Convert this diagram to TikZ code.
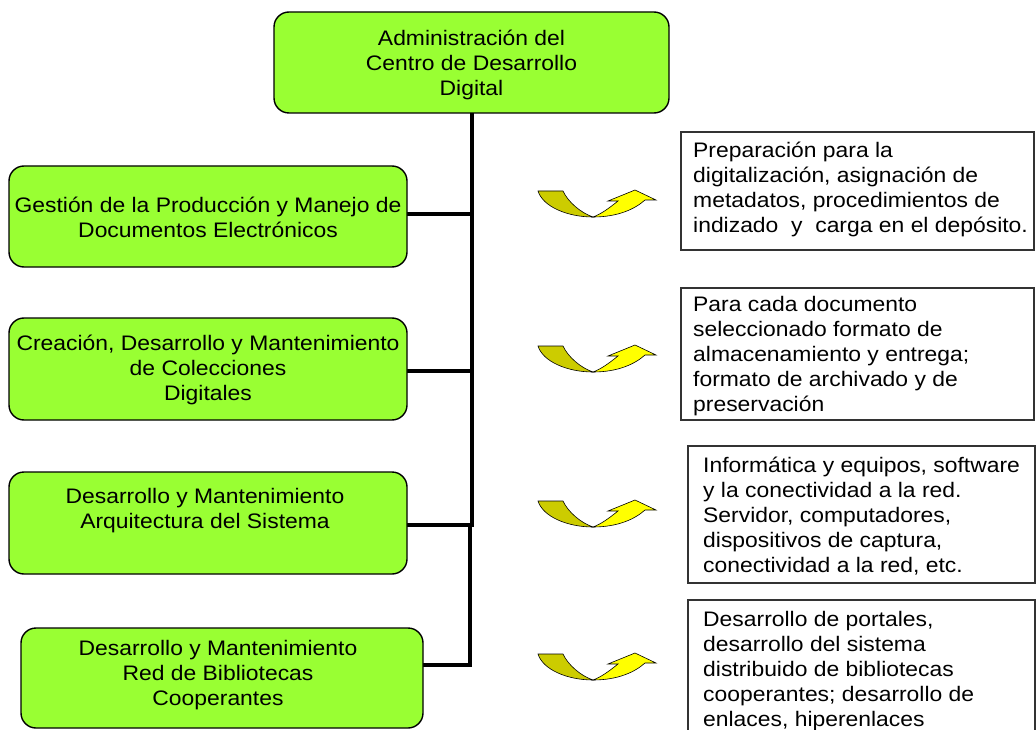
\documentclass[tikz,border=0pt]{standalone}
\usepackage{fontspec}
\setmainfont{Liberation Sans}[FakeStretch=1.09]
\usetikzlibrary{backgrounds}
\definecolor{lgreen}{HTML}{99FF33}
\definecolor{dkyel}{HTML}{CCCC00}
\definecolor{bryel}{HTML}{FFFF00}
\tikzset{
  gbox/.style={draw=black, line width=1.4pt, fill=lgreen, rounded corners=15pt, inner sep=0pt},
  wbox/.style={draw=black!80, line width=1.4pt, fill=white, inner sep=0pt},
  txt/.style={font=\fontsize{21}{25}\selectfont, inner sep=0pt},
  conn/.style={line width=4pt, line cap=rect},
  uarrow/.pic={
    \draw[line width=0.6pt, fill=dkyel] (-55,-26) .. controls (-50,-10) and (-25,0) .. (0,0)
      .. controls (-12,-4) and (-25,-15) .. (-30,-26) -- cycle;
    \draw[line width=0.6pt, fill=bryel, line join=miter] (0,0) .. controls (25,0) and (42,-8) .. (52,-17)
      -- (63,-17) -- (42,-27) -- (15,-16) -- (25,-16) .. controls (15,-8) and (8,-3) .. (0,0) -- cycle;
  }
}
\begin{document}
\begin{tikzpicture}[x=1pt,y=-1pt]
\useasboundingbox (0,0) rectangle (1036,730);
\clip (0,0) rectangle (1036,730);

% green boxes
\node[gbox, minimum width=395pt, minimum height=101pt] (top) at (471.5,62.5) {};
\node[gbox, minimum width=398pt, minimum height=101pt] (b1) at (208,216.5) {};
\node[gbox, minimum width=398pt, minimum height=102pt] (b2) at (208,369) {};
\node[gbox, minimum width=398pt, minimum height=102pt] (b3) at (208,523) {};
\node[gbox, minimum width=402pt, minimum height=100pt] (b4) at (222,678) {};

\node[txt, align=center] (ttop) at (471.5,64.5) {Administración del\\Centro de Desarrollo\\Digital};
\node[txt, align=center] (t1) at (208,217) {Gestión de la Producción y Manejo de\\Documentos Electrónicos};
\node[txt, align=center] (t2) at (208,370) {Creación, Desarrollo y Mantenimiento\\de Colecciones\\Digitales};
\node[txt, align=center] (t3) at (205,510.5) {Desarrollo y Mantenimiento\\Arquitectura del Sistema};
\node[txt, align=center] (t4) at (218,675) {Desarrollo y Mantenimiento\\Red de Bibliotecas\\Cooperantes};

% junctions
\coordinate (j1) at (472,214);
\coordinate (j2) at (472,371);
\coordinate (j3) at (472,525);
\coordinate (j3b) at (470,525);
\coordinate (j4) at (470,665);

\begin{pgfonlayer}{background}
\draw[conn] (top.south -| j1) -- (j3);
\draw[conn] (b1.east |- j1) -- (j1);
\draw[conn] (b2.east |- j2) -- (j2);
\draw[conn] (b3.east |- j3) -- (j3);
\draw[conn] (j3b) -- (j4) -- (b4.east |- j4);
\end{pgfonlayer}

% right boxes
\node[wbox, minimum width=353pt, minimum height=118pt] (r1) at (857.5,191) {};
\node[wbox, minimum width=353pt, minimum height=132pt] (r2) at (857.5,354) {};
\node[wbox, minimum width=347pt, minimum height=137pt] (r3) at (861.5,514.5) {};
\node[wbox, minimum width=347pt, minimum height=145pt] (r4) at (861.5,672.5) {};

\node[txt, align=left, anchor=north west] (tr1) at (693,142) {Preparación para la\\digitalización, asignación de\\metadatos, procedimientos de\\indizado\ \ y\ \ carga en el depósito.};
\node[txt, align=left, anchor=north west] (tr2) at (693,296) {Para cada documento\\seleccionado formato de\\almacenamiento y entrega;\\formato de archivado y de\\preservación};
\node[txt, align=left, anchor=north west] (tr3) at (703,457) {Informática y equipos, software\\y la conectividad a la red.\\Servidor, computadores,\\dispositivos de captura,\\conectividad a la red, etc.};
\node[txt, align=left, anchor=north west] (tr4) at (703,611) {Desarrollo de portales,\\desarrollo del sistema\\distribuido de bibliotecas\\cooperantes; desarrollo de\\enlaces, hiperenlaces};

% curved arrows
\pic (a1) at (593,217) {uarrow};
\pic (a2) at (593,372) {uarrow};
\pic (a3) at (593,527) {uarrow};
\pic (a4) at (593,680) {uarrow};
\end{tikzpicture}
\end{document}
